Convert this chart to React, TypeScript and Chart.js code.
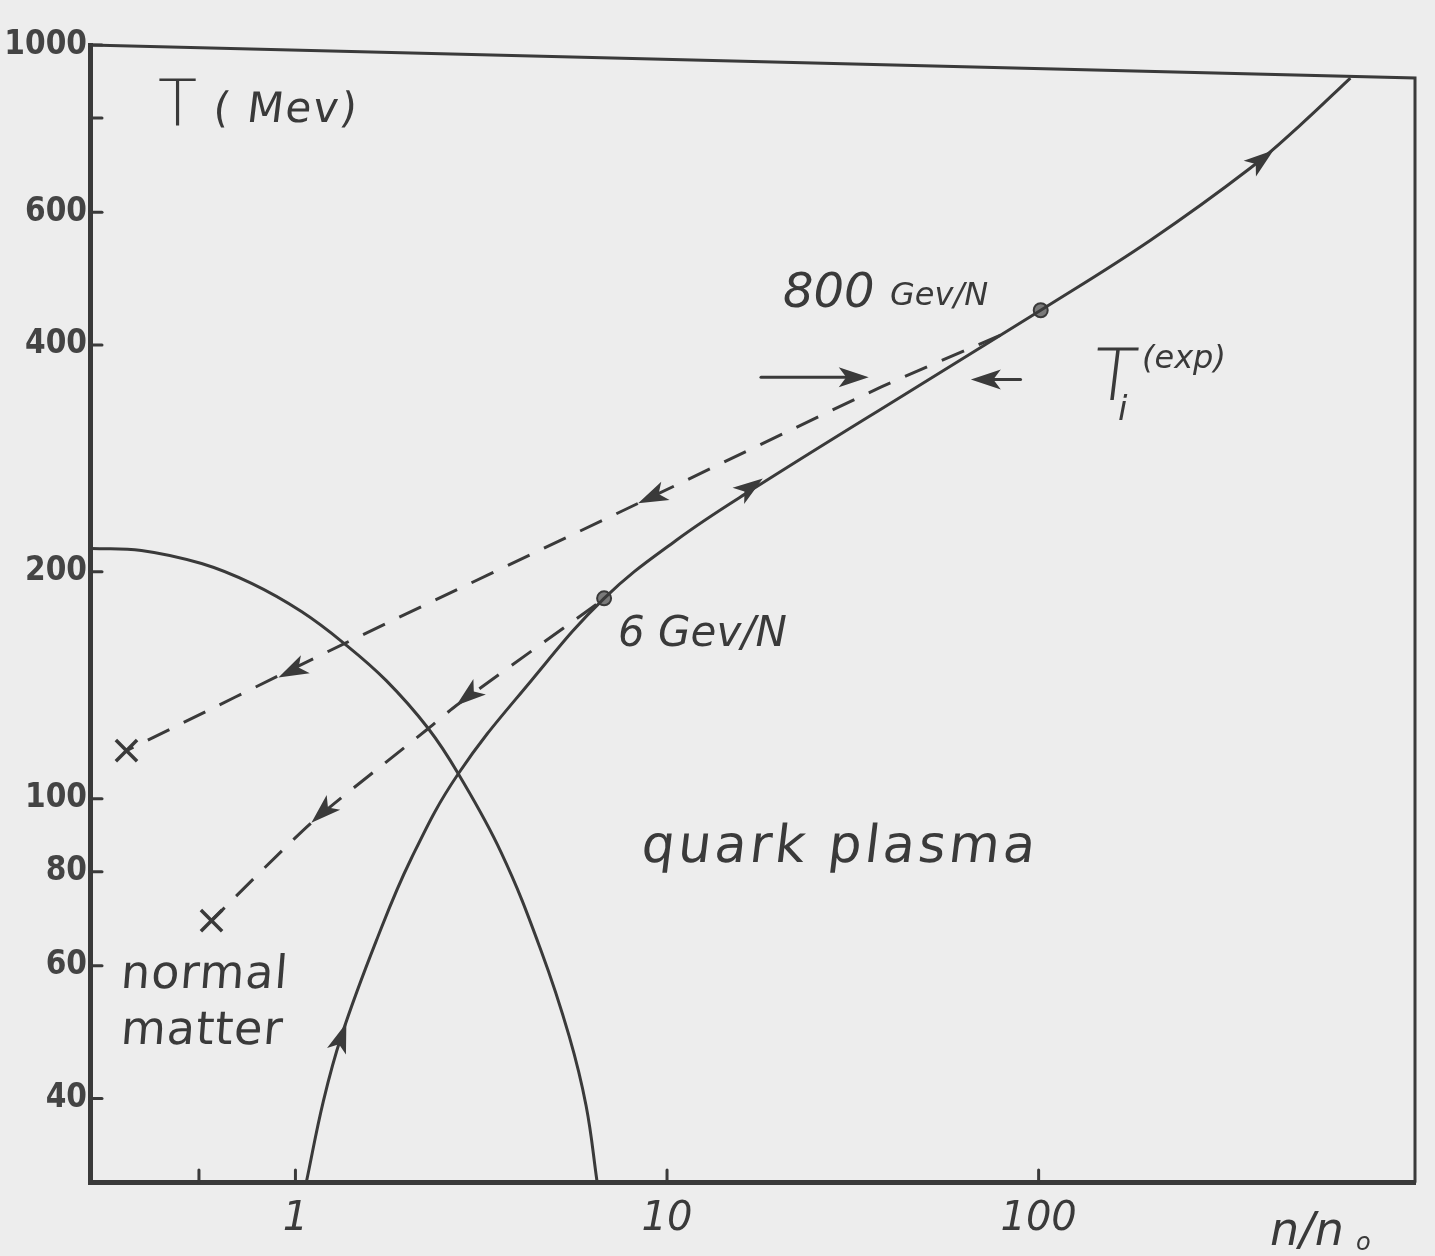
import React, { useEffect, useRef } from "react";
import { Chart, registerables } from "chart.js";

Chart.register(...registerables);

// ---------- data (n/n0 , T in MeV) ----------
const xTickValues = [0.55, 1, 10, 100];
const xTickLabels = ["", "1", "10", "100"];
const yTickValues = [40, 60, 80, 100, 200, 400, 600, 800, 1000];
const yTickLabels = ["40", "60", "80", "100", "200", "400", "600", "", "1000"];

// phase boundary between normal matter and quark plasma
const boundaryN = [0.283, 0.385, 0.559, 0.762, 1.038, 1.354, 1.756, 2.278, 2.743, 3.579, 4.585, 5.453, 6.058, 6.484];
const boundaryT = [214.8, 213.5, 205.1, 193.0, 177.1, 160.6, 143.4, 123.9, 107.9, 84.8, 62.8, 48.4, 39.1, 31];

// compression / heating trajectory
const pathN = [1.07, 1.189, 1.329, 1.651, 2.05, 2.743, 4.31, 6.771, 10.57, 16.82, 50.3, 101.3, 200, 371.5, 506, 690];
const pathT = [31, 39.7, 48.4, 64.8, 83.3, 107.9, 143.4, 184.4, 220.1, 256.5, 359.1, 444.7, 550.8, 686.7, 783.1, 904];

// expansion (cooling) from 800 GeV/N
const cool800N = [79.0, 37.6, 8.36, 1.354, 0.351];
const cool800T = [412, 351.5, 246.5, 160.6, 115.8];

// expansion (cooling) from 6 GeV/N
const cool6N = [6.45, 2.709, 2.278, 1.104, 0.5945];
const cool6T = [181, 132.9, 123.9, 92.9, 68.9];

// beam energy points
const beamN = [6.771, 101.3];
const beamT = [184.4, 444.7];

// freeze-out points
const freezeN = [0.351, 0.5945];
const freezeT = [115.8, 68.9];

// arrows: tip and tail (data coordinates); shaft drawn for the T_i markers
const arrowTipN = [1.371, 18.1, 428.5, 8.36, 0.9, 2.709, 1.104, 34.9, 65.7];
const arrowTipT = [50.4, 266, 725, 246.5, 144.8, 132.9, 92.9, 362.4, 360];
const arrowTailN = [1.305, 15.62, 360, 10.06, 1.084, 3.162, 1.281, 17.9, 89.4];
const arrowTailT = [47.0, 252.6, 678, 257, 151.5, 141.3, 99.4, 362.4, 360];
const arrowShaft = [false, false, false, false, false, false, false, true, true];

const INK = "#3a3a3a";
const PAPER = "#ededed";

const zip = (xs: number[], ys: number[]) => xs.map((v, i) => ({ x: v, y: ys[i] }));

const overlay = {
  id: "overlay",
  beforeDraw(chart: any) {
    const { ctx, width, height } = chart;
    ctx.save();
    ctx.fillStyle = PAPER;
    ctx.fillRect(0, 0, width, height);
    ctx.restore();
  },
  afterDatasetsDraw(chart: any) {
    const { ctx, chartArea } = chart;
    const { left, right, top, bottom } = chartArea;
    const xs = chart.scales.x;
    const ys = chart.scales.y;
    ctx.save();
    ctx.strokeStyle = INK;
    ctx.fillStyle = INK;
    ctx.lineCap = "round";

    // top and right frame (hand-drawn, slightly slanted top)
    ctx.lineWidth = 3;
    ctx.beginPath();
    ctx.moveTo(left, top);
    ctx.lineTo(right, top + 33);
    ctx.lineTo(right, bottom);
    ctx.stroke();

    // inward tick marks
    ctx.lineWidth = 3;
    yTickValues.forEach((v) => {
      const py = ys.getPixelForValue(v);
      ctx.beginPath();
      ctx.moveTo(left, py);
      ctx.lineTo(left + 12, py);
      ctx.stroke();
    });
    xTickValues.forEach((v) => {
      const px = xs.getPixelForValue(v);
      ctx.beginPath();
      ctx.moveTo(px, bottom);
      ctx.lineTo(px, bottom - 12);
      ctx.stroke();
    });

    // arrows
    arrowTipN.forEach((_, i) => {
      const tx = xs.getPixelForValue(arrowTipN[i]);
      const ty = ys.getPixelForValue(arrowTipT[i]);
      const bx = xs.getPixelForValue(arrowTailN[i]);
      const by = ys.getPixelForValue(arrowTailT[i]);
      const a = Math.atan2(ty - by, tx - bx);
      if (arrowShaft[i]) {
        ctx.lineWidth = 3;
        ctx.beginPath();
        ctx.moveTo(bx, by);
        ctx.lineTo(tx - Math.cos(a) * 10, ty - Math.sin(a) * 10);
        ctx.stroke();
      }
      const L = 30;
      const W = 10;
      ctx.beginPath();
      ctx.moveTo(tx, ty);
      ctx.lineTo(tx - L * Math.cos(a) + W * Math.sin(a), ty - L * Math.sin(a) - W * Math.cos(a));
      ctx.lineTo(tx - L * 0.75 * Math.cos(a), ty - L * 0.75 * Math.sin(a));
      ctx.lineTo(tx - L * Math.cos(a) - W * Math.sin(a), ty - L * Math.sin(a) + W * Math.cos(a));
      ctx.closePath();
      ctx.fill();
    });

    // text annotations
    ctx.textBaseline = "alphabetic";
    ctx.textAlign = "left";
    const txt = (s: string, x: number, y: number, font: string, skew = 0, spacing = "0px") => {
      ctx.save();
      ctx.font = font;
      (ctx as any).letterSpacing = spacing;
      ctx.translate(x, y);
      if (skew) ctx.transform(1, 0, skew, 1, 0, 0);
      ctx.fillText(s, 0, 0);
      ctx.restore();
    };
    const F = "'DejaVu Sans', sans-serif";
    txt("T", 158, 125, `300 64px ${F}`);
    txt("( Mev)", 212, 122, `42px ${F}`, -0.12, "2px");
    txt("800", 783, 307, `italic 48px ${F}`);
    txt("Gev/N", 890, 305, `italic 32px ${F}`);
    txt("T", 1090, 400, `300 72px ${F}`, -0.12);
    txt("i", 1118, 420, `italic 34px ${F}`);
    txt("(exp)", 1142, 368, `italic 32px ${F}`);
    txt("6 Gev/N", 618, 646, `italic 42px ${F}`);
    txt("quark plasma", 640, 862, `52px ${F}`, -0.12, "3.5px");
    txt("normal", 120, 988, `46px ${F}`, -0.08, "1px");
    txt("matter", 120, 1044, `46px ${F}`, -0.08, "1px");
    txt("n/n", 1270, 1245, `italic 46px ${F}`);
    txt("o", 1356, 1250, `italic 24px ${F}`);
    ctx.restore();
  },
};

export default function App() {
  const ref = useRef<HTMLCanvasElement | null>(null);
  useEffect(() => {
    if (!ref.current) return;
    const line = (data: any[], dashed: boolean) => ({
      data,
      showLine: true,
      borderColor: INK,
      borderWidth: 3,
      borderDash: dashed ? [24, 16] : [],
      pointRadius: 0,
      fill: false,
      tension: dashed ? 0.2 : 0.4,
    });
    const chart = new Chart(ref.current, {
      type: "scatter",
      data: {
        datasets: [
          line(zip(boundaryN, boundaryT), false) as any,
          line(zip(pathN, pathT), false) as any,
          line(zip(cool800N, cool800T), true) as any,
          line(zip(cool6N, cool6T), true) as any,
          {
            data: zip(beamN, beamT),
            pointRadius: 7,
            backgroundColor: "#7a7a7a",
            borderColor: INK,
            borderWidth: 2,
          },
          {
            data: zip(freezeN, freezeT),
            pointStyle: "crossRot",
            pointRadius: 15,
            borderColor: INK,
            borderWidth: 3.5,
          },
        ],
      },
      options: {
        animation: false,
        responsive: false,
        devicePixelRatio: 1,
        layout: { padding: { top: 45, right: 20, left: 0, bottom: 0 } },
        plugins: { legend: { display: false }, tooltip: { enabled: false } },
        scales: {
          x: {
            type: "logarithmic",
            min: 0.28,
            max: 1030,
            afterFit: (s: any) => {
              s.height = 74;
            },
            afterBuildTicks: (s: any) => {
              s.ticks = xTickValues.map((v) => ({ value: v }));
            },
            grid: { display: false, drawTicks: false },
            border: { display: true, width: 5, color: INK },
            ticks: {
              autoSkip: false,
              maxRotation: 0,
              padding: 14,
              color: INK,
              font: { family: "'DejaVu Sans', sans-serif", size: 40, style: "italic" },
              callback: (v: any) => {
                const i = xTickValues.indexOf(Number(v));
                return i >= 0 ? xTickLabels[i] : "";
              },
            },
          },
          y: {
            type: "logarithmic",
            min: 31,
            max: 1000,
            afterFit: (s: any) => {
              s.width = 90;
            },
            afterBuildTicks: (s: any) => {
              s.ticks = yTickValues.map((v) => ({ value: v }));
            },
            grid: { display: false, drawTicks: false },
            border: { display: true, width: 5, color: INK },
            ticks: {
              autoSkip: false,
              padding: 3,
              color: "#444",
              font: { family: "'DejaVu Sans Condensed', 'DejaVu Sans', sans-serif", size: 33, weight: "bold" },
              callback: (v: any) => {
                const i = yTickValues.indexOf(Number(v));
                return i >= 0 ? yTickLabels[i] : "";
              },
            },
          },
        },
      },
      plugins: [overlay as any],
    });
    return () => chart.destroy();
  }, []);
  return (
    <div style={{ position: "absolute", left: 0, top: 0, width: 1435, height: 1256 }}>
      <canvas ref={ref} width={1435} height={1256} />
    </div>
  );
}
